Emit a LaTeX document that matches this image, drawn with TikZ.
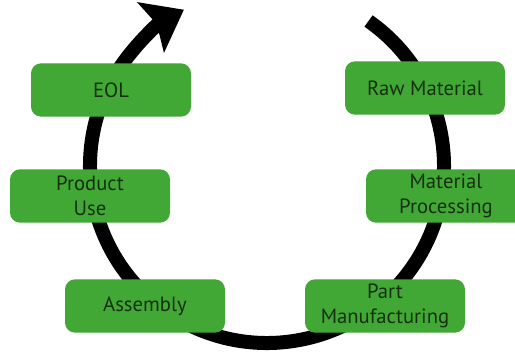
\documentclass[tikz,border=0pt]{standalone}
\usepackage{fontspec}
\setmainfont{PT Sans}
\usepackage{tikz}
\usetikzlibrary{arrows.meta}

\definecolor{stagegreen}{RGB}{65,168,54}
\definecolor{stagetext}{RGB}{22,48,14}

\begin{document}
\begin{tikzpicture}[x=0.75pt,y=0.75pt,yscale=-1,xscale=1,
  stage/.style={fill=stagegreen, rounded corners=7.5pt, minimum width=120pt, minimum height=40pt,
    inner sep=0.75pt, align=center, text=stagetext, font=\fontsize{15.5}{19}\selectfont}]
\path[use as bounding box] (0,0) rectangle (515,358);

%Arc: life cycle loop
\draw [line width=10.5pt, -{Stealth[length=28pt,width=42pt,inset=5pt]}] (267,166) ++(-55:177) arc (-55:242:177) ;

% Stage Nodes
\node[stage] (eol) at (111,90) {EOL};
\node[stage] (use) at (90,196) {Product\\Use};
\node[stage] (asm) at (145,306) {Assembly};
\node[stage] (raw) at (425,88) {Raw Material};
\node[stage] (proc) at (446,196) {Material\\Processing};
\node[stage] (part) at (385,306) {Part\\Manufacturing};

\end{tikzpicture}
\end{document}
